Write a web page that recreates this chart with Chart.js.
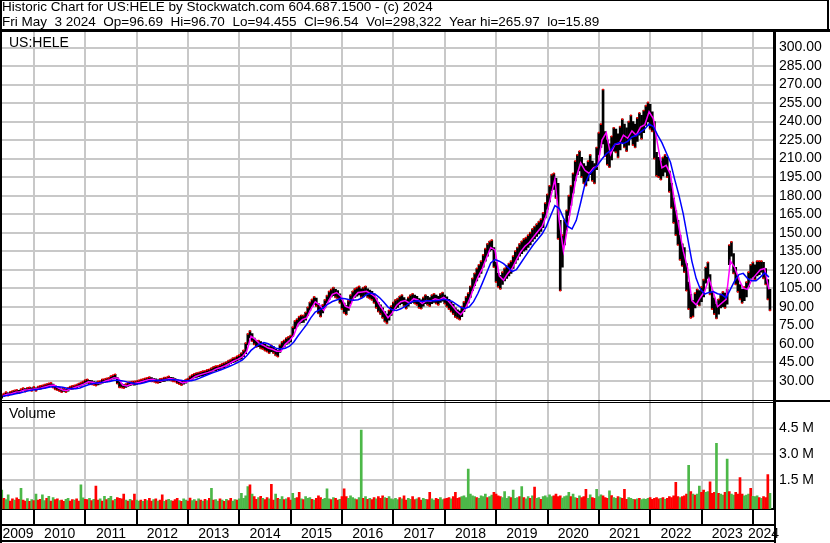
<!DOCTYPE html>
<html><head><meta charset="utf-8">
<script src="https://cdn.jsdelivr.net/npm/chart.js@4.4.1/dist/chart.umd.min.js"></script>
<style>html,body{margin:0;padding:0;background:#fff;}canvas{display:block;}</style>
</head><body>
<canvas id="c" width="830" height="543"></canvas>
<script>
// ---------------- data ----------------
const headerLines = [
  'Historic Chart for US:HELE by Stockwatch.com 604.687.1500 - (c) 2024',
  'Fri May  3 2024  Op=96.69  Hi=96.70  Lo=94.455  Cl=96.54  Vol=298,322  Year hi=265.97  lo=15.89'
];
const symbolLabel = 'US:HELE';
const volumeLabel = 'Volume';
const yearLabels = ['2009','2010','2011','2012','2013','2014','2015','2016','2017','2018','2019','2020','2021','2022','2023','2024'];
const yearBoundaries = [2010,2011,2012,2013,2014,2015,2016,2017,2018,2019,2020,2021,2022,2023,2024];
const priceTicks = [30,45,60,75,90,105,120,135,150,165,180,195,210,225,240,255,270,285,300];
const volumeTicks = [1.5,3.0,4.5];

// half-month price ranges (low / high), May 2009 .. Apr 2024
const lows = [
  15.9,17.4,18.3,17.9,18.8,19.4,19.8,20.3,19.9,20.7,21.9,21.2,21.9,22.2,21.8,22.9,
  21.7,22.8,23.1,23.9,24.1,24.8,25.1,25.8,24.4,23.0,22.3,21.6,20.7,21.3,20.8,21.6,22.8,23.1,23.9,24.1,25.3,25.6,26.7,27.5,
  28.0,27.6,27.0,26.7,26.0,26.6,27.2,28.0,28.6,29.0,29.6,30.4,31.5,31.9,27.6,24.6,24.5,24.0,24.6,25.5,26.0,26.7,26.5,27.1,
  27.7,28.0,28.7,29.0,29.7,30.0,29.5,29.2,28.5,28.2,28.5,29.2,29.5,30.2,30.5,30.2,29.5,29.2,28.0,27.2,26.5,27.2,28.0,29.2,
  30.4,31.3,32.4,32.7,33.3,33.8,34.2,34.9,35.2,35.8,36.7,37.8,38.2,38.9,39.2,40.3,40.6,41.8,42.6,43.8,44.6,45.2,46.1,47.2,
  47.6,49.5,52.0,59.0,64.8,62.0,59.5,57.4,57.6,56.3,55.6,54.4,53.6,52.3,53.5,52.4,50.6,49.5,53.0,56.6,57.4,59.5,60.5,61.4,
  66,72,74,76,77,77.2,79,83,87,90,92,90.5,84.5,82,85,89,93,96,98,99,97.5,96.5,93,88,
  85,83.5,87,92.5,95.5,97.5,98.5,99.5,97.5,98,99.5,97.5,96.5,95.5,93,89,86,84,81,78,76.5,79,83,86.5,
  88.5,89.5,91.5,92.5,90.5,88.5,90.5,92.5,93.5,92.5,91.5,89,88.5,90.5,92.5,91.5,90.5,92.5,93.5,92.5,91.5,93.5,94.5,92.5,
  90,88,86,84,81.5,80.5,79.5,82,86,90,93,97.5,103,107,111,114,117,122,127,131,135,136,122,110,
  106,104.5,108,111,113,115,117,121,125,128,131,133,135,136,138,140,143,145,147,149,151,154,162,169,
  175,184,185,178,145,103,122,140,152,164,172,182,192,197,200,195,190,188,192,197,192,190,201,213,
  219,222,212,205,203,209,216,215,211,217,223,219,216,221,226,221,219,224,229,226,231,237,240,234,
  232,210,196,195,193,196,199,195,183,170,158,148,140,128,123,118,103,88,81,82,89,92,91,94,
  98,109,113,100,88,84,80.5,84,89,90,89,92,124,131,117,108,102,96,93,95,98,106,113,114,
  112,115,116,118,113,108,96,87
];
const highs = [
  18.7,19.6,20.8,20.3,21.1,21.7,22.3,22.6,22.2,23.3,24.1,23.7,24.2,24.6,24.3,25.1,
  24.3,25.3,25.8,26.2,26.8,27.4,27.9,28.3,27.4,26.0,24.8,24.4,23.4,23.8,23.3,24.3,25.3,25.9,26.2,26.8,27.8,28.5,29.3,30.6,
  31.1,30.4,30.1,29.3,28.9,29.5,29.8,31.1,31.4,32.0,32.4,33.7,34.5,35.3,32.6,29.4,27.5,26.9,27.4,28.5,28.9,29.3,29.5,29.8,
  30.3,31.0,31.3,32.0,32.3,33.0,32.5,31.8,31.5,30.8,31.5,31.8,32.5,32.8,33.5,32.8,32.5,31.8,31.0,29.8,29.5,29.8,31.0,31.8,
  33.6,34.7,35.6,36.3,36.7,37.2,37.8,38.1,38.8,39.2,40.3,41.2,41.8,42.1,42.8,43.7,44.4,45.2,46.4,47.2,48.4,48.8,49.9,50.8,
  52.5,54.6,60.5,68.0,70.5,68.2,64.6,62.7,62.5,61.8,60.4,59.7,58.4,57.8,58.6,57.7,55.4,54.6,59.0,61.5,62.7,64.6,65.5,66.7,
  73.5,78.5,80,82,83,83,85.5,89.5,93.5,96,98,97,92.5,89.5,91.5,95.5,99,102.5,104,105.5,104,103,100.5,95.5,
  93,91,95,99.5,102.5,104.5,105.5,106.5,104.5,105.5,106.5,104.5,103.5,102.5,100.5,97,93.5,91.5,89,86,84,87,90.5,93.5,
  95.5,96.5,98.5,99.5,97.5,95.5,97.5,99.5,100.5,99.5,98.5,96.5,95.5,97.5,99.5,98.5,97.5,99.5,100.5,99.5,98.5,100.5,101.5,99.5,
  98,96,94,92,89,87.5,86.5,90,94,98,101,106.5,113,117,121,124,127,132,137,141,143,144,138,126,
  117,115.5,118,121,123,125,127,131,135,138,141,143,145,146,148,150,153,155,157,159,161,166,174,181,
  188,197,198,194,190,160,148,160,168,180,188,198,208,213,216,211,206,204,208,213,208,206,219,231,
  238,266,232,225,222,228,235,234,230,236,242,238,235,240,245,240,238,243,247,245,249,253,255.5,254,
  248,240,215,211,208,211,213,211,200,190,178,168,160,148,141,138,125,110,100,95,101,104,103,106,
  112,122,126,116,102,97,92,96,100,102,101,104,140,142.5,133,122,114,108,104,106,110,118,124,126,
  124,127,127,127,126,121,112,104
];
// half-month peak volume (millions) and up/down colour code
const volume = [
  0.94,0.45,0.38,0.66,0.30,0.42,0.35,0.48,0.40,1.04,0.36,0.30,0.44,0.28,0.38,0.33,
  0.70,0.35,0.40,0.66,0.32,0.45,0.57,0.30,0.50,0.38,0.42,0.33,0.36,0.28,0.40,0.45,0.30,0.38,0.35,0.42,0.30,1.23,0.48,0.40,
  0.38,0.45,0.33,0.40,1.17,0.35,0.42,0.30,0.57,0.38,0.45,0.57,0.32,0.40,0.50,0.46,0.42,0.70,0.36,0.30,0.40,0.33,0.70,0.35,
  0.30,0.36,0.28,0.40,0.33,0.45,0.30,0.38,0.42,0.30,0.35,0.66,0.28,0.36,0.40,0.32,0.30,0.38,0.45,0.33,0.28,0.42,0.36,0.30,
  0.47,0.33,0.38,0.30,0.42,0.36,0.30,0.40,0.33,0.45,1.04,0.35,0.38,0.30,0.42,0.36,0.28,0.40,0.33,0.45,0.30,0.38,0.35,0.42,
  0.75,0.45,0.60,1.13,1.23,0.70,0.55,0.40,0.50,0.57,0.45,0.38,0.50,0.42,1.26,0.36,0.70,0.45,0.40,0.55,0.38,0.42,0.50,0.36,
  0.75,0.45,0.50,0.80,0.42,0.38,0.55,0.45,0.50,0.40,0.36,0.45,0.60,0.50,0.40,0.45,1.00,0.42,0.38,0.50,0.45,0.36,0.40,0.55,
  1.00,0.55,0.45,0.60,0.50,0.42,0.38,0.50,4.41,0.45,0.55,0.40,0.45,0.38,0.50,0.42,0.55,0.45,0.60,0.50,0.45,0.55,0.42,0.38,
  0.45,0.38,0.50,0.42,0.60,0.36,0.45,0.40,0.55,0.38,0.42,0.50,0.36,0.45,0.40,0.38,0.80,0.42,0.36,0.45,0.40,0.50,0.38,0.42,
  0.45,0.50,0.42,0.55,0.80,0.45,0.50,0.55,0.60,0.50,2.15,0.70,0.60,0.55,0.50,0.45,0.60,0.55,0.70,0.50,0.55,0.65,0.80,0.70,
  0.60,0.55,0.50,0.85,0.45,0.55,0.50,0.94,0.45,0.50,0.55,1.13,0.50,0.42,0.55,0.45,0.60,1.10,0.45,0.50,0.40,0.55,0.60,0.50,
  0.66,0.55,0.60,0.70,0.55,0.60,0.47,0.55,0.60,0.80,0.55,0.70,0.50,0.45,0.60,0.50,0.55,0.98,0.45,0.66,0.50,0.45,0.98,0.55,
  0.66,0.60,0.50,0.45,0.89,0.62,0.50,0.45,0.55,0.50,0.45,0.98,0.40,0.50,0.45,0.40,0.38,0.42,0.45,0.38,0.42,0.40,0.45,0.50,
  0.40,0.45,0.50,0.42,0.45,0.50,0.40,0.45,0.55,0.50,0.60,1.38,0.55,0.50,0.55,0.60,0.70,2.36,0.85,0.70,0.65,0.70,1.17,0.80,
  0.94,0.80,0.85,1.41,0.75,0.80,3.64,0.75,0.70,0.65,0.80,2.73,0.85,0.70,0.65,0.80,0.70,1.66,0.70,0.60,0.65,0.70,1.04,0.57,
  0.55,0.60,0.50,0.45,0.55,0.50,1.83,0.75
];
const volumeDir = [
  'grggrrgrrgrrgrgr',
  'grrggrgrgrrgrrggrrgrrggr',
  'rgrgrrgrgrggrgrrrrgrgrrg',
  'grgrgrrgrgrrgrggrrrgrggr',
  'rggrgrgrgrgrggrgrgrrggrg',
  'ggggrgrrgrgrrgrrgrggrgrr',
  'ggrrgrgggrgrrrggggrgrrgr',
  'rrggggrggrgrgrrgrrrgrggg',
  'ggrgrrggrrgrrggrrggrrggr',
  'rrgrrrrgggggggrggggrggrr',
  'rrggggrgggrgrggrgrggrggg',
  'ggrrrrggggrggrgrrrggrrgg',
  'grrrgrggrgrrrgggrgrggggr',
  'rrrrgrgrrrrrrgrrrgrgrggr',
  'rggrrrgrggrgrggrrrrgggrg',
  'ggrgrrrg'
].join('');
// monthly moving averages: short (magenta) and long (blue)
const maFast = [
  17.6,19.0,19.5,20.8,21.2,22.5,22.8,23.2,
  23.5,24.2,25.2,26.2,26.5,24.0,22.5,22.2,23.5,24.8,26.0,27.5,
  29.2,28.8,27.8,28.2,29.8,30.8,32.5,31.8,26.5,25.8,27.2,28.0,
  28.8,29.8,30.8,31.2,30.2,29.8,30.8,31.8,31.2,30.0,28.2,29.0,
  31.2,33.5,34.8,35.8,36.8,38.0,39.8,40.8,42.2,44.0,46.0,47.5,
  49.5,54.0,66.0,63.5,60.0,58.5,56.5,55.5,54.0,54.0,59.5,62.5,
  67.0,76.0,79.5,81.0,88.0,94.0,91.5,87.0,94.0,100.0,101.5,98.5,
  90.5,89.0,97.5,101.5,102.0,102.5,100.5,98.0,91.5,86.5,81.0,85.0,
  91.0,94.0,95.0,93.0,96.5,95.5,92.5,95.0,94.5,96.5,95.5,97.5,
  95.0,91.0,86.5,83.5,88.0,95.5,105.0,114.0,120.5,129.5,138.0,136.0,
  115.0,111.5,117.0,121.0,128.0,134.5,139.0,142.0,146.5,151.0,155.0,164.0,
  178.5,193.5,160.0,135.0,155.0,176.0,195.0,206.5,200.5,198.0,202.5,204.0,
  225.0,231.0,213.5,221.5,222.0,229.0,226.5,232.5,229.0,235.5,237.5,248.0,
  242.5,221.5,202.5,204.5,197.5,174.0,154.0,135.0,121.5,95.0,91.5,97.5,
  102.5,113.0,102.0,90.0,93.0,96.0,127.0,122.0,112.0,105.0,104.0,112.0,
  116.0,120.0,121.0,104.0
];
const maSlow = [
  17.5,18.0,18.7,19.5,20.1,21.0,21.8,22.5,
  22.9,23.6,24.2,24.9,25.2,25.2,24.7,24.0,23.5,23.5,24.2,25.5,
  26.8,27.6,28.1,28.6,28.9,29.4,30.4,30.5,29.9,29.1,28.4,27.4,
  27.5,28.4,29.4,30.0,30.3,30.5,30.7,30.8,30.8,30.6,30.2,30.0,
  30.1,30.8,32.1,33.7,35.1,36.4,37.6,38.9,40.2,41.8,43.3,45.0,
  46.9,50.3,54.6,57.4,59.6,60.9,60.0,57.8,56.1,55.7,56.4,58.0,
  61.4,66.5,71.0,75.6,81.2,85.6,87.5,89.5,92.2,94.2,95.4,96.8,
  96.4,95.6,95.3,95.7,97.1,99.9,101.1,100.1,97.4,93.8,89.7,87.5,
  87.0,88.3,90.2,92.9,94.5,94.8,94.3,94.8,94.8,94.8,95.2,96.0,
  95.5,94.3,91.9,89.6,88.6,89.9,94.1,100.7,108.7,117.1,125.4,128.2,
  126.9,124.9,121.9,118.5,120.0,125.2,130.4,135.4,140.4,144.7,148.9,155.1,
  163.7,171.9,169.8,162.0,155.0,153.0,160.0,174.0,189.0,197.0,201.0,205.0,
  209.7,214.0,216.5,221.6,223.0,222.2,224.0,227.5,228.7,231.4,234.0,238.0,
  236,229,223,215,207,193,180,165,146,127,113,104,
  100.3,101.6,102.3,100.5,99.8,97.1,104,111,116,117,113,111,
  111,114,117.4,114
];

// ---------------- layout constants ----------------
const X_MIN = 2009.377, X_MAX = 2024.409;
const T0 = 2009.372, DT = 1 / 24;
const P_MIN = 13.2, P_MAX = 312.6;
const V_MIN = -0.162, V_MAX = 6.06;
const FONT = "'Liberation Sans', Arial, sans-serif";
const GRID = '#c8c8c8';

const tOf = i => T0 + i * DT;
const mTime = j => T0 + (2 * j + 0.5) * DT;
const mid = i => (lows[i] + highs[i]) / 2;

const rangeData = lows.map((l, i) => ({x: tOf(i), y: [l, highs[i]]}));
const tickData = lows.map((l, i) => ({x: tOf(i), y: (i === 0 || mid(i) >= mid(i - 1)) ? highs[i] : l}));
const volData = volume.map((v, i) => ({x: tOf(i), y: v}));
const volColors = volume.map((v, i) => volumeDir[i] === 'r' ? '#ff0000' : '#4cb848');
const fastData = maFast.map((v, j) => ({x: mTime(j), y: v}));
const slowData = maSlow.map((v, j) => ({x: mTime(j), y: v}));
const labelPos = yearLabels.map((y) => {
  const yr = +y;
  const a = Math.max(yr, X_MIN), b = Math.min(yr + 1, X_MAX);
  return (a + b) / 2;
});

Chart.defaults.font.family = FONT;
Chart.defaults.font.size = 14;
Chart.defaults.color = '#000';

const framePlugin = {
  id: 'frame',
  afterDraw(chart) {
    const ctx = chart.ctx, a = chart.chartArea;
    ctx.save();
    ctx.fillStyle = '#000';
    ctx.fillRect(0, 0, 829, 1);
    ctx.fillRect(827, 0, 2, 31);
    ctx.fillRect(0, 29, 830, 3);
    ctx.fillRect(0, 0, 2, 543);
    ctx.fillRect(a.right, a.top, 2, 543 - a.top);
    ctx.fillRect(0, 400, a.right, 1);
    ctx.fillRect(0, 402, a.right, 1);
    ctx.fillRect(a.right, 400, 830 - a.right, 2);
    ctx.fillRect(0, 540, a.right + 2, 2);
    ctx.font = '14px ' + FONT;
    ctx.textBaseline = 'alphabetic';
    ctx.textAlign = 'left';
    ctx.fillText(symbolLabel, 9, 46.5);
    ctx.fillText(volumeLabel, 9, 418);
    ctx.restore();
  }
};

new Chart(document.getElementById('c'), {
  type: 'line',
  data: {
    datasets: [
      {type: 'line', data: slowData, xAxisID: 'x', yAxisID: 'yP', borderColor: '#0000ff', borderWidth: 1.5,
       pointRadius: 0, tension: 0, order: 1},
      {type: 'line', data: fastData, xAxisID: 'x', yAxisID: 'yP', borderColor: '#ff00ff', borderWidth: 1.5,
       pointRadius: 0, tension: 0, order: 2},
      {type: 'line', data: tickData, xAxisID: 'x', yAxisID: 'yP', showLine: false, pointStyle: 'rect',
       pointRadius: 1.2, pointBorderWidth: 0, pointBackgroundColor: '#ff0000', order: 3},
      {type: 'bar', data: rangeData, xAxisID: 'x', yAxisID: 'yP', backgroundColor: '#000', borderWidth: 0,
       barThickness: 2, grouped: false, order: 5},
      {type: 'bar', data: volData, xAxisID: 'x', yAxisID: 'yV', backgroundColor: volColors, borderWidth: 0,
       barThickness: 2, grouped: false, base: V_MIN, order: 4}
    ]
  },
  options: {
    responsive: false,
    devicePixelRatio: 1,
    animation: false,
    events: [],
    layout: {autoPadding: false, padding: {left: 2, right: 2, top: 0, bottom: 0}},
    plugins: {
      legend: {display: false},
      tooltip: {enabled: false},
      title: {display: true, text: headerLines, align: 'start', color: '#000',
              font: {size: 13.5, lineHeight: '15px', weight: 'normal'}, padding: {top: 0, bottom: 2}}
    },
    scales: {
      x: {
        type: 'linear', position: 'bottom', min: X_MIN, max: X_MAX, offset: false,
        afterBuildTicks: s => { s.ticks = yearBoundaries.map(v => ({value: v})); },
        afterFit: s => { s.height = 16; },
        grid: {color: GRID, lineWidth: 2, drawTicks: true, tickLength: 16, tickColor: '#000', tickWidth: 2, offset: false},
        border: {display: true, color: '#000', width: 2},
        ticks: {display: false, autoSkip: false}
      },
      xl: {
        type: 'linear', position: 'bottom', min: X_MIN, max: X_MAX, offset: false,
        afterBuildTicks: s => { s.ticks = labelPos.map(v => ({value: v})); },
        afterFit: s => { s.height = 18; },
        grid: {display: true, drawOnChartArea: false, drawTicks: false},
        border: {display: true, color: '#000', width: 2},
        ticks: {autoSkip: false, maxRotation: 0, minRotation: 0, padding: 1, color: '#000',
                font: {size: 14}, callback: (v, i) => yearLabels[i]}
      },
      yP: {
        type: 'linear', position: 'right', stack: 'panels', stackWeight: 369.5, min: P_MIN, max: P_MAX,
        afterBuildTicks: s => { s.ticks = priceTicks.map(v => ({value: v})); },
        afterFit: s => { s.width = 54; },
        grid: {color: GRID, lineWidth: 2, drawTicks: false},
        border: {display: true, color: '#000', width: 2},
        ticks: {autoSkip: false, padding: 5, color: '#000', font: {size: 14, lineHeight: 1},
                callback: v => Number(v).toFixed(2)}
      },
      yV: {
        type: 'linear', position: 'right', stack: 'panels', stackWeight: 107.5, min: V_MIN, max: V_MAX,
        afterBuildTicks: s => { s.ticks = volumeTicks.map(v => ({value: v})); },
        afterFit: s => { s.width = 54; },
        grid: {color: GRID, lineWidth: 2, drawTicks: false},
        border: {display: true, color: '#000', width: 2},
        ticks: {autoSkip: false, padding: 5, color: '#000', font: {size: 14, lineHeight: 1},
                callback: v => Number(v).toFixed(1) + ' M'}
      }
    }
  },
  plugins: [framePlugin]
});
</script>
</body></html>
